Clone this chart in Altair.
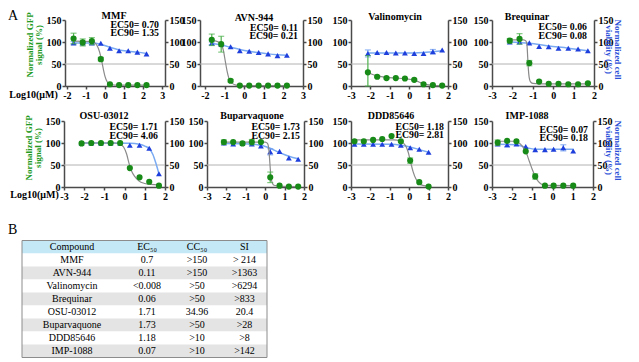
import altair as alt
import pandas as pd

# ---------------- values ----------------
NAMES = ["MMF", "AVN-944", "Valinomycin", "Brequinar",
         "OSU-03012", "Buparvaquone", "DDD85646", "IMP-1088"]
EC50_FIT = ["0.70", "0.11", "", "0.06", "1.71", "1.73", "1.18", "0.07"]
EC90_FIT = ["1.35", "0.21", "", "0.08", "4.06", "2.15", "2.81", "0.18"]

MMF_LOGC = [-1.65, -1.17, -0.69, -0.22, 0.26, 0.74, 1.22, 1.70, 2.18]
MMF_GFP = [108, 99, 102, 61, 4, 2, 2, 2, 2]
MMF_GFP_SD = [12, 8, 8, 4, 0, 0, 0, 0, 0]
MMF_VIA = [98, 98, 98, 97, 86, 80, 80, 77, 73]
MMF_VIA_SD = [3, 3, 3, 0, 0, 0, 0, 0, 0]
MMF_GFP_FIT = [(-1.65, 102), (-0.69, 101), (-0.5, 97), (-0.35, 86), (-0.22, 67),
               (-0.1, 41), (0.0, 22), (0.12, 9), (0.26, 4), (0.74, 2), (2.18, 2)]
MMF_VIA_FIT = [(-1.65, 98), (-0.69, 98), (-0.22, 95), (0.26, 88), (0.74, 82),
               (1.22, 79), (1.70, 77), (2.18, 74)]

AVN_LOGC = [-1.65, -1.17, -0.69, -0.22, 0.26, 0.74, 1.22, 1.70, 2.18]
AVN_GFP = [105, 95, 12, 1, 1, 1, 1, 1, 1]
AVN_GFP_SD = [13, 18, 3, 0, 0, 0, 0, 0, 0]
AVN_VIA = [97, 95, 89, 80, 79, 76, 73, 69, 70]
AVN_VIA_SD = [3, 0, 0, 0, 0, 0, 0, 0, 0]
AVN_GFP_FIT = [(-1.65, 103), (-1.35, 101), (-1.17, 95), (-1.05, 79), (-0.96, 56),
               (-0.87, 34), (-0.78, 18), (-0.6, 6), (-0.4, 2), (-0.22, 1), (2.18, 1)]
AVN_VIA_FIT = [(-1.65, 97), (-1.17, 93), (-0.69, 88), (-0.22, 83), (0.26, 79),
               (0.74, 76), (1.22, 73), (1.70, 71), (2.18, 70)]

VAL_LOGC = [-2.13, -1.65, -1.17, -0.69, -0.22, 0.26, 0.74, 1.22, 1.70]
VAL_GFP = [31, 21, 18, 18, 17, 14, 4, 2, 1]
VAL_GFP_SD = [38, 2, 2, 0, 0, 2, 0, 0, 0]
VAL_VIA = [74, 76, 76, 75, 75, 74, 74, 78, 82]
VAL_VIA_SD = [8, 0, 0, 0, 0, 0, 0, 5, 0]
VAL_GFP_FIT = [(-2.13, 30), (-1.65, 23), (-1.17, 19.5), (-0.69, 18), (-0.22, 16.5),
               (0.26, 13), (0.5, 9), (0.74, 5), (1.0, 2.5), (1.22, 1.5), (1.70, 1)]
VAL_VIA_FIT = [(-2.13, 75), (0.26, 75), (0.74, 76), (1.22, 78), (1.70, 80)]

BRQ_LOGC = [-2.13, -1.65, -1.17, -0.69, -0.22, 0.26, 0.74, 1.22, 1.70]
BRQ_GFP = [103, 107, 52, 10, 5, 5, 4, 4, 6]
BRQ_GFP_SD = [5, 12, 6, 2, 0, 0, 0, 0, 2]
BRQ_VIA = [100, 100, 98, 90, 89, 86, 86, 84, 80]
BRQ_VIA_SD = [0, 0, 0, 0, 0, 0, 0, 0, 0]
BRQ_GFP_FIT = [(-2.13, 105), (-1.45, 105), (-1.33, 102), (-1.28, 90), (-1.25, 65),
               (-1.22, 40), (-1.18, 20), (-1.12, 10), (-1.0, 6), (-0.69, 5), (1.70, 5)]
BRQ_VIA_FIT = [(-2.13, 100), (-1.17, 97), (-0.22, 91), (0.74, 86), (1.70, 80)]

OSU_LOGC = [-2.13, -1.65, -1.17, -0.69, -0.22, 0.26, 0.74, 1.22, 1.70]
OSU_GFP = [99, 100, 100, 100, 100, 43, 22, 12, 3]
OSU_GFP_SD = [0, 0, 0, 0, 0, 0, 0, 0, 0]
OSU_VIA = [100, 100, 100, 100, 100, 95, 95, 88, 30]
OSU_VIA_SD = [0, 0, 0, 0, 0, 0, 0, 0, 0]
OSU_GFP_FIT = [(-2.13, 100), (-0.5, 100), (-0.25, 98), (-0.05, 91), (0.1, 75), (0.23, 52),
               (0.35, 36), (0.5, 24), (0.7, 14), (1.0, 8), (1.3, 6), (1.70, 5)]
OSU_VIA_FIT = [(-2.13, 100), (0.26, 99.5), (0.74, 97), (1.0, 93), (1.22, 87),
               (1.4, 74), (1.55, 54), (1.70, 30)]

BUP_LOGC = [-2.13, -1.65, -1.17, -0.69, -0.22, 0.26, 0.74, 1.22, 1.70]
BUP_GFP = [102, 102, 99, 102, 102, 22, 3, 1, 1]
BUP_GFP_SD = [5, 0, 0, 6, 0, 12, 0, 0, 0]
BUP_VIA = [100, 98, 99, 98, 93, 80, 81, 66, 63]
BUP_VIA_SD = [0, 0, 0, 0, 0, 7, 0, 0, 0]
BUP_GFP_FIT = [(-2.13, 102), (0.0, 102), (0.12, 99), (0.18, 88), (0.22, 68), (0.26, 42),
               (0.3, 22), (0.36, 10), (0.45, 4), (0.74, 2), (1.70, 1)]
BUP_VIA_FIT = [(-2.13, 99), (-1.17, 98.5), (-0.22, 95), (0.26, 88), (0.74, 78),
               (1.22, 70), (1.70, 64)]

DDD_LOGC = [-2.82, -2.34, -1.86, -1.39, -0.91, -0.43, 0.05, 0.52, 1.0]
DDD_GFP = [104, 104, 107, 109, 116, 104, 60, 11, 1]
DDD_GFP_SD = [0, 0, 0, 0, 0, 0, 6, 0, 0]
DDD_VIA = [97, 97, 97, 97, 97, 95, 89, 86, 79]
DDD_VIA_SD = [0, 0, 0, 0, 0, 0, 0, 0, 0]
DDD_GFP_FIT = [(-2.82, 107), (-0.8, 107), (-0.45, 104), (-0.2, 95), (-0.05, 79), (0.07, 57),
               (0.2, 35), (0.35, 18), (0.52, 8), (0.75, 3), (1.0, 2)]
DDD_VIA_FIT = [(-2.82, 97.5), (-0.91, 97), (-0.43, 95), (0.05, 91), (0.52, 85), (1.0, 79)]

IMP_LOGC = [-2.72, -2.25, -1.79, -1.33, -0.86, -0.38, 0.05, 0.53, 1.02]
IMP_GFP = [101, 105, 104, 81, 24, 3, 3, 3, 3]
IMP_GFP_SD = [6, 0, 0, 0, 6, 0, 0, 0, 0]
IMP_VIA = [98, 96, 98, 92, 85, 85, 86, 89, 82]
IMP_VIA_SD = [0, 5, 0, 0, 0, 0, 0, 7, 0]
IMP_GFP_FIT = [(-2.72, 104), (-1.95, 104), (-1.7, 101), (-1.5, 93), (-1.33, 81), (-1.15, 58),
               (-1.0, 39), (-0.86, 24), (-0.7, 12), (-0.5, 5), (-0.3, 3.5), (1.02, 3)]
IMP_VIA_FIT = [(-2.72, 97), (-1.79, 96), (-1.33, 90), (-0.86, 86), (1.02, 86)]

SERIES = [
    (MMF_LOGC, MMF_GFP, MMF_GFP_SD, MMF_VIA, MMF_VIA_SD, MMF_GFP_FIT, MMF_VIA_FIT),
    (AVN_LOGC, AVN_GFP, AVN_GFP_SD, AVN_VIA, AVN_VIA_SD, AVN_GFP_FIT, AVN_VIA_FIT),
    (VAL_LOGC, VAL_GFP, VAL_GFP_SD, VAL_VIA, VAL_VIA_SD, VAL_GFP_FIT, VAL_VIA_FIT),
    (BRQ_LOGC, BRQ_GFP, BRQ_GFP_SD, BRQ_VIA, BRQ_VIA_SD, BRQ_GFP_FIT, BRQ_VIA_FIT),
    (OSU_LOGC, OSU_GFP, OSU_GFP_SD, OSU_VIA, OSU_VIA_SD, OSU_GFP_FIT, OSU_VIA_FIT),
    (BUP_LOGC, BUP_GFP, BUP_GFP_SD, BUP_VIA, BUP_VIA_SD, BUP_GFP_FIT, BUP_VIA_FIT),
    (DDD_LOGC, DDD_GFP, DDD_GFP_SD, DDD_VIA, DDD_VIA_SD, DDD_GFP_FIT, DDD_VIA_FIT),
    (IMP_LOGC, IMP_GFP, IMP_GFP_SD, IMP_VIA, IMP_VIA_SD, IMP_GFP_FIT, IMP_VIA_FIT),
]

Y_TICKS = [0, 50, 100, 150]
X_TICKS_A = [-2, -1, 0, 1, 2, 3]
X_TICKS_B = [-3, -2, -1, 0, 1, 2]

TABLE_HEAD = ["Compound", "EC₅₀", "CC₅₀", "SI"]
TABLE_COMPOUND = NAMES
TABLE_EC50 = ["0.7", "0.11", "<0.008", "0.06", "1.71", "1.73", "1.18", "0.07"]
TABLE_CC50 = [">150", ">150", ">50", ">50", "34.96", ">50", ">10", ">10"]
TABLE_SI = ["> 214", ">1363", ">6294", ">833", "20.4", ">28", ">8", ">142"]

# ---------------- layout / style ----------------
SERIF = "Liberation Serif"
GREEN_PT = "#178a17"
GREEN_ERR = "#4fb24f"
GREEN_TXT = "#229a22"
BLUE_PT = "#1e3fdc"
BLUE_FIT = "#7aaaf2"
BLUE_ERR = "#6c9bf0"
BLUE_TXT = "#2a4fd8"
FIT_GRAY = "#8a8a8a"
REF_GRAY = "#b2b2b2"
AXIS_COL = "#4a4a4a"

PH = 66                       # plot height
CELL_W = [136, 151, 141, 102]  # grid column widths
LAYOUT = [
    dict(xdom=(-2.1, 3.15), xt=X_TICKS_A, a=1, w=100, tx=49, ty=-4.5, ecx=-6, ecy=4.5,
         left=(-36, 24.5), right=None, logt=(-31, 8.5), letter="A"),
    dict(xdom=(-2.25, 3), xt=X_TICKS_A, a=0, w=103, tx=54, ty=-2.5, ecx=-5, ecy=7.6,
         left=None, right=None, logt=None),
    dict(xdom=(-3, 2), xt=X_TICKS_B, a=0, w=97, tx=44, ty=-3.5, ecx=-5, ecy=7,
         left=None, right=None, logt=None),
    dict(xdom=(-3, 2), xt=X_TICKS_B, a=0, w=102, tx=35, ty=-3.5, ecx=-7, ecy=7.0,
         left=None, right=(23.5, 29), logt=None),
    dict(xdom=(-3, 2), xt=X_TICKS_B, a=0, w=101, tx=40, ty=-5.5, ecx=-7, ecy=6.0,
         left=(-35.5, 26.5), right=None, logt=(-30, 7.5)),
    dict(xdom=(-3, 2), xt=X_TICKS_B, a=7, w=97, tx=45, ty=-5.5, ecx=-4, ecy=6.0,
         left=None, right=None, logt=None),
    dict(xdom=(-3, 2), xt=X_TICKS_B, a=0, w=97, tx=40, ty=-5.5, ecx=-4, ecy=5.5,
         left=None, right=None, logt=None),
    dict(xdom=(-3, 2), xt=X_TICKS_B, a=0, w=101, tx=35, ty=-5.5, ecx=-5, ecy=8.6,
         left=None, right=(24.5, 29), logt=None),
]

AX = dict(domainColor=AXIS_COL, domainWidth=1.5, tickColor=AXIS_COL, tickWidth=1.5,
          tickSize=3, labelFont=SERIF, labelFontWeight="bold", labelFontSize=10,
          labelColor="black", labelPadding=1, grid=False, labelOverlap=False,
          labelFlush=False, titleFont=SERIF, titleFontWeight="bold")


def err_frames(xs, ys, sds):
    df = pd.DataFrame({"x": xs, "y": ys, "sd": sds})
    df["lo"] = (df["y"] - df["sd"]).clip(lower=0)
    df["hi"] = df["y"] + df["sd"]
    e = df[df["sd"] > 0]
    caps = pd.concat([e[["x", "lo"]].rename(columns={"lo": "y"}),
                      e[["x", "hi"]].rename(columns={"hi": "y"})])
    return df, e, caps


def make_panel(i):
    logc, gfp, gsd, via, vsd, gfit, vfit = SERIES[i]
    L = LAYOUT[i]
    a, w = L["a"], L["w"]
    cw = CELL_W[i % 4]
    x0, x1 = L["xdom"]

    if L["logt"]:
        xaxis = alt.Axis(values=L["xt"], labelExpr="datum.value + ''", title="Log10(μM)",
                         titleX=L["logt"][0], titleY=L["logt"][1], titleAngle=0,
                         titleAlign="center", titleBaseline="middle", titleFontSize=10,
                         titleColor="black", **AX)
    else:
        xaxis = alt.Axis(values=L["xt"], labelExpr="datum.value + ''", title=None, **AX)
    X = alt.X("x:Q", scale=alt.Scale(domain=[x0, x1], range=[a, a + w], nice=False, zero=False),
              axis=xaxis)

    if L["left"]:
        laxis = alt.Axis(orient="left", offset=-a, values=Y_TICKS,
                         title=["Normalized GFP", "signal (%)"], titleX=L["left"][0],
                         titleY=L["left"][1], titleAngle=270, titleAlign="center",
                         titleBaseline="middle", titleFontSize=9, titleLineHeight=9,
                         titleColor=GREEN_TXT, **AX)
    else:
        laxis = alt.Axis(orient="left", offset=-a, values=Y_TICKS, title=None, **AX)
    roff = -(cw - a - w)
    if L["right"]:
        raxis = alt.Axis(orient="right", offset=roff, values=Y_TICKS,
                         title=["Normalized cell", "viability (%)"], titleX=L["right"][0],
                         titleY=L["right"][1], titleAngle=90, titleAlign="center",
                         titleBaseline="middle", titleFontSize=9, titleLineHeight=9,
                         titleColor=BLUE_TXT, **AX)
    else:
        raxis = alt.Axis(orient="right", offset=roff, values=Y_TICKS, title=None, **AX)

    ysc = alt.Scale(domain=[0, 150], nice=False, zero=False)

    def YG(f):
        return alt.Y(f + ":Q", scale=ysc, axis=laxis)

    def YB(f):
        return alt.Y(f + ":Q", scale=ysc, axis=raxis)

    # green (GFP) series
    gdf, gerr, gcaps = err_frames(logc, gfp, gsd)
    gfit_df = pd.DataFrame(gfit, columns=["x", "y"])
    g_line = alt.Chart(gfit_df).mark_line(color=FIT_GRAY, strokeWidth=1.2,
                                          interpolate="monotone").encode(x=X, y=YG("y"))
    g_bar = alt.Chart(gerr).mark_rule(color=GREEN_ERR, strokeWidth=1.2).encode(
        x=X, y=YG("lo"), y2=alt.Y2("hi"))
    g_cap = alt.Chart(gcaps).mark_tick(color=GREEN_ERR, orient="horizontal", size=6,
                                       thickness=1.2).encode(x=X, y=YG("y"))
    g_pts = alt.Chart(gdf).mark_point(filled=True, shape="circle", size=38, color=GREEN_PT,
                                      opacity=1).encode(x=X, y=YG("y"))
    ttl = alt.Chart(pd.DataFrame({"t": [NAMES[i]]})).mark_text(
        font=SERIF, fontWeight="bold", fontSize=10, align="center", baseline="middle",
        color="black").encode(text="t:N", x=alt.value(a + L["tx"]), y=alt.value(L["ty"]))
    g_layers = [g_line, g_bar, g_cap, g_pts, ttl]
    if EC50_FIT[i]:
        ec = alt.Chart(pd.DataFrame({"k": [0]})).mark_text(
            font=SERIF, fontWeight="bold", fontSize=9.8, align="right", baseline="alphabetic",
            lineHeight=8.3, color="black").encode(
            text=alt.value([f"EC50= {EC50_FIT[i]}", f"EC90= {EC90_FIT[i]}"]),
            x=alt.value(a + w + L["ecx"]), y=alt.value(L["ecy"] + 3.4))
        g_layers.append(ec)
    if L.get("letter"):
        let = alt.Chart(pd.DataFrame({"k": [0]})).mark_text(
            font=SERIF, fontSize=14, align="left", baseline="top", color="black").encode(
            text=alt.value(L["letter"]), x=alt.value(-56), y=alt.value(-11.5))
        g_layers.append(let)
    green = alt.layer(*g_layers)

    # blue (viability) series
    bdf, berr, bcaps = err_frames(logc, via, vsd)
    bfit_df = pd.DataFrame(vfit, columns=["x", "y"])
    ref = alt.Chart(pd.DataFrame({"x": [x0], "x2": [x1], "y": [50]})).mark_rule(
        color=REF_GRAY, strokeWidth=1).encode(x=X, x2=alt.X2("x2"), y=YB("y"))
    b_line = alt.Chart(bfit_df).mark_line(color=BLUE_FIT, strokeWidth=1.5,
                                          interpolate="monotone").encode(x=X, y=YB("y"))
    b_bar = alt.Chart(berr).mark_rule(color=BLUE_ERR, strokeWidth=1.2).encode(
        x=X, y=YB("lo"), y2=alt.Y2("hi"))
    b_cap = alt.Chart(bcaps).mark_tick(color=BLUE_ERR, orient="horizontal", size=6,
                                       thickness=1.2).encode(x=X, y=YB("y"))
    b_pts = alt.Chart(bdf).mark_point(filled=True, shape="triangle-up", size=34,
                                      color=BLUE_PT, opacity=1).encode(x=X, y=YB("y"))
    blue = alt.layer(ref, b_line, b_bar, b_cap, b_pts)

    return alt.layer(blue, green).resolve_scale(y="independent").properties(
        width=cw, height=PH)


panels = [make_panel(i) for i in range(8)]

# ---------------- table B ----------------
COL_W = [100, 50, 50, 45]
TABLE_W = sum(COL_W)
col_center = []
acc = 0
for cwid in COL_W:
    col_center.append(acc + cwid / 2)
    acc += cwid

rows = [TABLE_HEAD] + [list(r) for r in zip(TABLE_COMPOUND, TABLE_EC50, TABLE_CC50, TABLE_SI)]
recs = []
for r, row in enumerate(rows):
    for c, t in enumerate(row):
        recs.append({"row": r, "t": t, "tx": col_center[c]})
txt_df = pd.DataFrame(recs)
bg_df = pd.DataFrame({
    "row": list(range(len(rows))),
    "x0": [0] * len(rows),
    "x1": [TABLE_W] * len(rows),
    "fill": ["#c4e8f6"] + ["#ffffff" if k % 2 == 0 else "#e4e4e4" for k in range(len(rows) - 1)],
})

T_LEFT, T_TOP, T_BOTTOM = -42, 18.5, 135.5
tx_scale = alt.Scale(domain=[0, TABLE_W], range=[T_LEFT, T_LEFT + TABLE_W], nice=False, zero=False)
ty_enc = alt.Y("row:O", scale=alt.Scale(range=[T_TOP, T_BOTTOM], paddingInner=0, paddingOuter=0),
               axis=None)

bg = alt.Chart(bg_df).mark_rect().encode(
    x=alt.X("x0:Q", scale=tx_scale, axis=None), x2=alt.X2("x1"), y=ty_enc,
    fill=alt.Fill("fill:N", scale=None))
cells = alt.Chart(txt_df).mark_text(font=SERIF, fontSize=10, align="center", baseline="middle",
                                    color="black").encode(
    x=alt.X("tx:Q", scale=tx_scale, axis=None), y=ty_enc, text="t:N")
border = alt.Chart(pd.DataFrame({"k": [0]})).mark_rect(
    fillOpacity=0, stroke="#8c8c8c", strokeWidth=1).encode(
    x=alt.value(T_LEFT), x2=alt.value(T_LEFT + TABLE_W), y=alt.value(T_TOP),
    y2=alt.value(T_BOTTOM))
letter_b = alt.Chart(pd.DataFrame({"k": [0]})).mark_text(
    font=SERIF, fontSize=14, align="left", baseline="middle", color="black").encode(
    text=alt.value("B"), x=alt.value(-56), y=alt.value(7.5))
table = alt.layer(bg, cells, border, letter_b).properties(width=CELL_W[0], height=136)

chart = alt.concat(*panels, table, columns=4, spacing=alt.RowColnumber(row=35, column=0),
                   bounds="flush", padding=0, background="white").configure_view(stroke=None)

chart.save("out.html", embed_options={"renderer": "svg", "actions": False})
